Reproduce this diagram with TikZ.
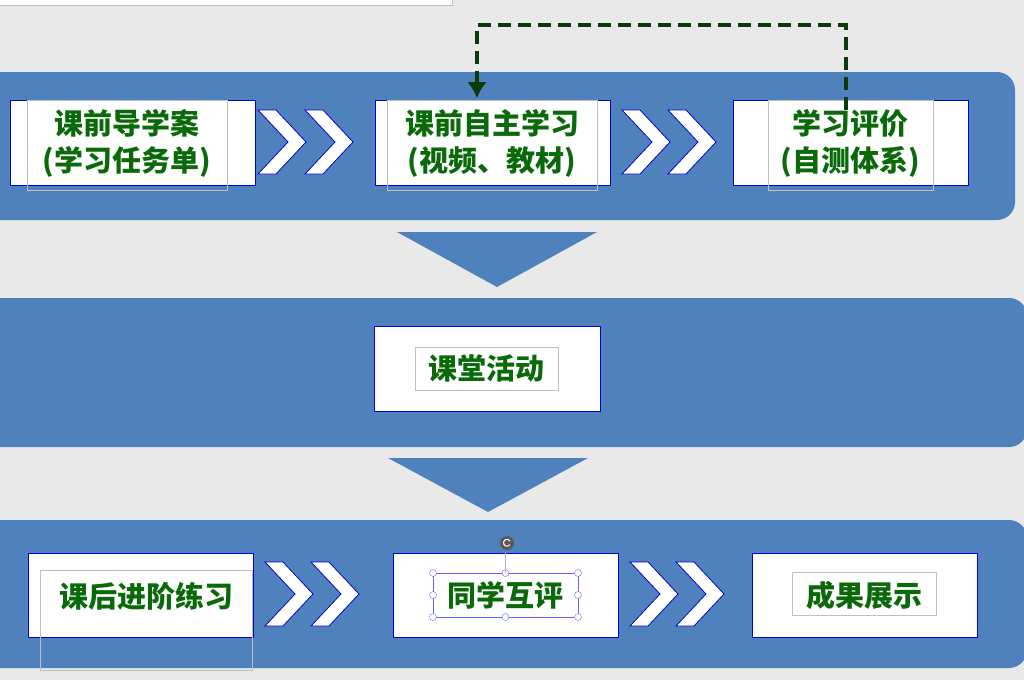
\documentclass[tikz,border=0pt]{standalone}
\usepackage{fontspec}
\usetikzlibrary{arrows.meta}
\newfontfamily\cjk{Noto Sans CJK SC}
\begin{document}
\begin{tikzpicture}[x=1pt,y=-1pt,
 band/.style={fill=bandblue,rounded corners=18pt,draw=none},
 box/.style={fill=white,draw=blue!85!black,line width=0.8pt},
 tbox/.style={draw=gray!50,line width=0.6pt},
 lbl/.style={font=\cjk\bfseries\fontsize{29}{37}\selectfont,text=txtgreen,align=center},
 chev/.style={fill=white,draw=blue!85!black,line width=0.8pt}]
\definecolor{bandblue}{HTML}{4F81BD}
\definecolor{txtgreen}{HTML}{0A6A0A}
\definecolor{dashgreen}{HTML}{0B3A0B}
\useasboundingbox (0,0) rectangle (1024,680);
\fill[gray!17] (0,0) rectangle (1024,680);
\draw[gray!50,fill=white] (-2,-2) rectangle (452,5);
% bands
\fill[band] (-20,72) rectangle (1015,220);
\fill[band] (-20,298) rectangle (1027,447);
\fill[band] (-20,520) rectangle (1027,668);
% triangles
\fill[bandblue] (397,232) -- (597,232) -- (497,287) -- cycle;
\fill[bandblue] (388,458) -- (588,458) -- (488,512) -- cycle;
% chevrons
\foreach \x/\y in {258/142,305/142,622/142,668/142,265/594,311/594,630/594,676/594}{
 \draw[chev] (\x,\y-32) -- (\x+18,\y-32) -- (\x+48,\y) -- (\x+18,\y+32) -- (\x,\y+32) -- (\x+30,\y) -- cycle;}
% band1
\node[box,minimum width=245pt,minimum height=85pt] (b1) at (132.5,142.5) {};
\draw[tbox] (27,100) rectangle (227,190);
\node[lbl] (t1) at (127,143) {课前导学案\\(学习任务单)};
\node[box,minimum width=235pt,minimum height=85pt] (b2) at (492.5,142.5) {};
\draw[tbox] (387,100) rectangle (597,190);
\node[lbl] (t2) at (492,143) {课前自主学习\\(视频、教材)};
\node[box,minimum width=235pt,minimum height=85pt] (b3) at (850.5,142.5) {};
\draw[tbox] (768,100) rectangle (933,190);
\node[lbl] (t3) at (850,143) {学习评价\\(自测体系)};
% band2
\node[box,minimum width=226pt,minimum height=85pt] (b4) at (487,368.5) {};
\draw[tbox] (415,347) rectangle (558,390);
\node[lbl] (t4) at (486,368) {课堂活动};
% band3
\node[box,minimum width=225pt,minimum height=84pt] (b5) at (140.5,595) {};
\draw[tbox] (40,570) rectangle (252,670);
\node[lbl] (t5) at (146,596) {课后进阶练习};
\node[box,minimum width=225pt,minimum height=84pt] (b6) at (505.5,595) {};
\node[lbl] (t6) at (505,595) {同学互评};
\draw[blue!60,line width=0.6pt] (433,573) rectangle (578,617);
\foreach \p in {(433,573),(505.5,573),(578,573),(433,595),(578,595),(433,617),(505.5,617),(578,617)}
 \draw[blue!60,fill=white] \p circle (3.5pt);
\draw[gray!60] (505.5,573) -- (505.5,552);
\fill[gray!70!black] (507,543) circle (7pt);
\draw[white,line width=1pt] (510,541) arc (30:330:3.5pt);
\node[box,minimum width=225pt,minimum height=84pt] (b7) at (864.5,595) {};
\draw[tbox] (792,572) rectangle (936,615);
\node[lbl] (t7) at (864,595) {成果展示};
% dashed arrow
\coordinate (d1) at (846,110);
\coordinate (d2) at (846,25);
\coordinate (d3) at (477,25);
\coordinate (d4) at (477,98);
\draw[dashgreen,line width=3.5pt,dash pattern=on 13pt off 7pt,-{Latex[length=16pt,width=20pt]}] (d1) -- (d2) -- (d3) -- (d4);
\end{tikzpicture}
\end{document}
